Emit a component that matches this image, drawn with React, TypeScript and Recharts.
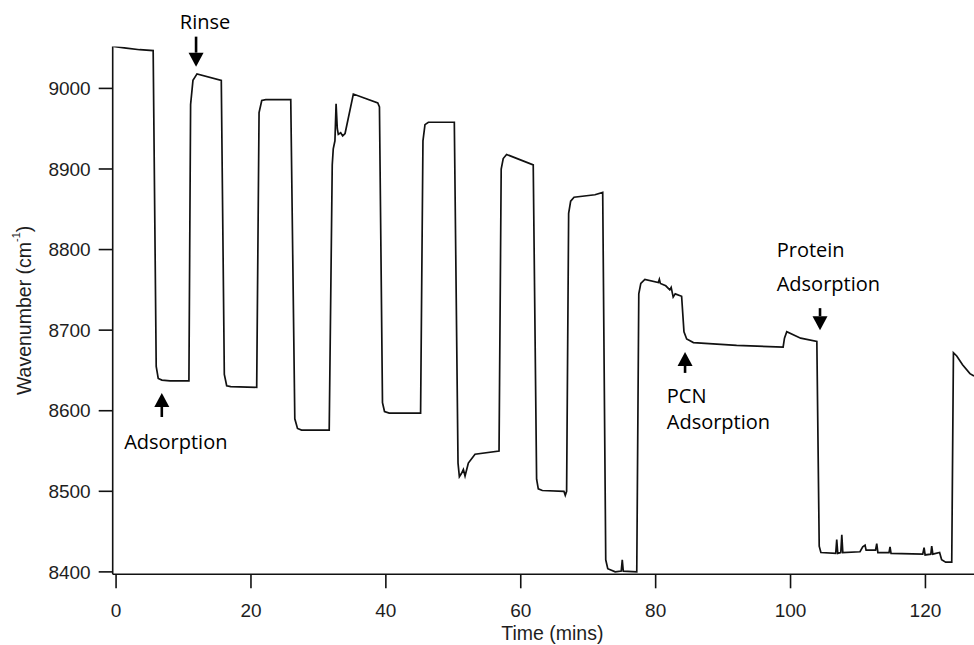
import React from 'react';
import { LineChart, Line, XAxis, YAxis, ReferenceDot, Label } from 'recharts';

// ---- data ----
const time: number[] = [
  -0.4, 1.5, 3.5, 5.5, 5.95, 6.25, 6.8, 8, 10.8,
  11.05, 11.4, 12.0, 15.6,
  16.05, 16.4, 17.0, 20.85,
  21.2, 21.6, 22.2, 25.9,
  26.5, 26.9, 27.5, 31.6,
  32.05, 32.2, 32.45, 32.62, 32.8, 32.95, 33.3, 33.6, 33.95, 35.18, 38.8, 39.05,
  39.5, 39.8, 40.5, 45.15,
  45.5, 45.8, 46.3, 50.15,
  50.7, 50.9, 51.2, 51.49, 51.74, 52.23, 53.22, 56.78,
  57.1, 57.4, 57.9, 61.85,
  62.35, 62.6, 63.2, 66.4, 66.6, 66.8,
  67.1, 67.4, 67.9, 71.0, 72.15,
  72.6, 72.9, 74.0, 74.9, 75.05, 75.2, 77.2,
  77.5, 77.8, 78.4, 80.4, 80.55, 80.7, 81.5, 82.1, 82.3, 82.6, 82.9, 83.85,
  84.2, 84.6, 85.6, 92, 98.9,
  99.1, 99.44, 101.5, 103.9,
  104.25, 104.5, 106.7, 106.85, 107.0, 107.45, 107.6, 107.75, 110.3, 110.7, 111.05, 111.2,
  112.6, 112.78, 112.95, 114.6, 114.75, 114.9, 119.6, 119.8, 119.95, 120.8, 120.93, 121.1,
  122.1, 122.4, 123.0, 123.9,
  124.15, 124.64, 125.5, 126.6, 127.2,
];
const wavenumber: number[] = [
  9052, 9050, 9048, 9047, 8655, 8640, 8638, 8637, 8637,
  8980, 9010, 9018, 9010,
  8645, 8631, 8630, 8629,
  8970, 8985, 8986, 8986,
  8590, 8578, 8576, 8576,
  8905, 8925, 8935, 8981, 8950, 8943, 8945, 8941, 8944, 8993, 8982, 8977,
  8610, 8599, 8597, 8597,
  8935, 8955, 8958, 8958,
  8535, 8518, 8522, 8527, 8519, 8535, 8546, 8550,
  8900, 8913, 8918, 8905,
  8515, 8503, 8501, 8500, 8495, 8500,
  8845, 8860, 8865, 8868, 8871,
  8415, 8404, 8400, 8401, 8415, 8401, 8400,
  8745, 8758, 8763, 8759, 8763, 8758, 8755, 8750, 8753, 8741, 8745, 8742,
  8698, 8689, 8684.6, 8681, 8679,
  8690, 8698, 8690, 8686,
  8432, 8424, 8423, 8440, 8423, 8424, 8446, 8424, 8425, 8431, 8433, 8427,
  8427, 8435, 8424, 8424, 8431, 8423, 8422, 8430, 8421, 8422, 8432, 8422,
  8424, 8415, 8412, 8412,
  8672, 8668, 8657, 8646, 8643,
];
const xTicks = [0, 20, 40, 60, 80, 100, 120];
const yTicks = [8400, 8500, 8600, 8700, 8800, 8900, 9000];
const xAxisTitle = 'Time (mins)';
const yAxisTitle = 'Wavenumber (cm';
const yAxisTitleSup = '-1';
const yAxisTitleEnd = ')';

const annotationLines: string[][] = [['Rinse'], ['Adsorption'], ['PCN', 'Adsorption'], ['Protein', 'Adsorption']];
const annotationTime = [11.86, 6.78, 84.36, 104.37];
const annotationValue = [9027, 8622, 8673, 8700];
const annotationDirection = ['down', 'up', 'up', 'down'];

// ---- presentation ----
const W = 974;
const H = 645;
const AXIS_FONT = '"Liberation Sans", Arial, Helvetica, sans-serif';
const NOTE_FONT = '"Open Sans", "Noto Sans", sans-serif';
const INK = '#111';
const TEXT = '#1e1e1e';

const ANNO_LAYOUT = [
  { anchor: 'middle', dx: 9, baselines: [-37.4], shaft: 16 },
  { anchor: 'middle', dx: 14, baselines: [56.3], shaft: 10 },
  { anchor: 'start', dx: -18.3, baselines: [51.6, 77.6], shaft: 7 },
  { anchor: 'start', dx: -43.3, baselines: [-72.7, -39.3], shaft: 8 },
];

const data = time.map((t, i) => ({ t, v: wavenumber[i] }));

function makeArrow(idx: number) {
  return (props: any) => {
    const { cx, cy } = props;
    if (cx == null || cy == null) return <g />;
    const lay = ANNO_LAYOUT[idx];
    const dir = annotationDirection[idx] === 'down' ? -1 : 1; // -1: body above tip
    const head = 14;
    const half = 7.5;
    const baseY = cy + dir * head;
    const tailY = baseY + dir * lay.shaft;
    return (
      <g>
        <line x1={cx} y1={baseY} x2={cx} y2={tailY} stroke="#000" strokeWidth={2.6} />
        <polygon points={`${cx - half},${baseY} ${cx + half},${baseY} ${cx},${cy}`} fill="#000" />
        {annotationLines[idx].map((s, k) => (
          <text
            key={k}
            x={cx + lay.dx}
            y={cy + lay.baselines[k]}
            textAnchor={lay.anchor as any}
            fontFamily={NOTE_FONT}
            fontSize={20}
            fill="#000"
          >
            {s}
          </text>
        ))}
      </g>
    );
  };
}

const YTitle = (props: any) => {
  const vb = props.viewBox || { x: 0, y: 0, width: 0, height: 0 };
  const cx = vb.x + 30.7;
  const cy = vb.y + vb.height / 2;
  return (
    <text
      x={cx}
      y={cy}
      transform={`rotate(-90, ${cx}, ${cy})`}
      textAnchor="middle"
      fontFamily={AXIS_FONT}
      fontSize={19.5}
      fill={TEXT}
    >
      {yAxisTitle}
      <tspan dy={-11} fontSize={11}>{yAxisTitleSup}</tspan>
      <tspan dy={11}>{yAxisTitleEnd}</tspan>
    </text>
  );
};

const XTitle = (props: any) => {
  const vb = props.viewBox || { x: 0, y: 0, width: 0, height: 0 };
  return (
    <text
      x={vb.x + vb.width / 2 + 9}
      y={vb.y + 65.7}
      textAnchor="middle"
      fontFamily={AXIS_FONT}
      fontSize={19.5}
      fill={TEXT}
    >
      {xAxisTitle}
    </text>
  );
};

export default function App() {
  return (
    <div style={{ position: 'absolute', left: 0, top: 0, width: W, height: H, background: '#fff' }}>
      <LineChart width={W} height={H} data={data} margin={{ top: 46.5, right: 0, bottom: 0, left: 0 }}>
        <XAxis
          dataKey="t"
          type="number"
          domain={[-0.5, 127.2]}
          ticks={xTicks}
          allowDataOverflow
          height={70.7}
          tickSize={14}
          tickMargin={15}
          axisLine={{ stroke: INK, strokeWidth: 1.6 }}
          tickLine={{ stroke: INK, strokeWidth: 1.6 }}
          tick={{ fontFamily: AXIS_FONT, fontSize: 19, fill: TEXT }}
        >
          <Label content={<XTitle />} />
        </XAxis>
        <YAxis
          type="number"
          domain={[8397, 9052]}
          ticks={yTicks}
          allowDataOverflow
          width={112.7}
          tickSize={14}
          tickMargin={8}
          axisLine={{ stroke: INK, strokeWidth: 1.6 }}
          tickLine={{ stroke: INK, strokeWidth: 1.6 }}
          tick={{ fontFamily: AXIS_FONT, fontSize: 19, fill: TEXT }}
        >
          <Label content={<YTitle />} />
        </YAxis>
        <Line
          dataKey="v"
          type="linear"
          dot={false}
          stroke={INK}
          strokeWidth={1.7}
          isAnimationActive={false}
        />
        {annotationTime.map((t, i) => (
          <ReferenceDot
            key={i}
            x={t}
            y={annotationValue[i]}
            r={0}
            ifOverflow="visible"
            shape={makeArrow(i)}
          />
        ))}
      </LineChart>
    </div>
  );
}
